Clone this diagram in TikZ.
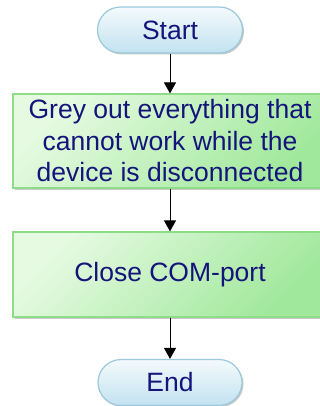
\documentclass[tikz,border=0pt]{standalone}
\usepackage{fontspec}
\setmainfont{Liberation Sans}
\usetikzlibrary{shadows,arrows.meta}
\definecolor{txtblue}{HTML}{14147A}
\definecolor{termfillA}{HTML}{F4FAFC}
\definecolor{termfillB}{HTML}{C2E2F0}
\definecolor{termline}{HTML}{9CC8DC}
\definecolor{stepfillA}{HTML}{E6FAE2}
\definecolor{stepfillB}{HTML}{A0E89B}
\definecolor{stepline}{HTML}{8EDC88}
\tikzset{
  terminal/.style={draw=termline, line width=1.2pt, rounded corners=23pt,
    minimum width=145pt, minimum height=46pt, inner sep=0pt,
    top color=termfillA, bottom color=termfillB,
    drop shadow={shadow xshift=1.5pt, shadow yshift=-1.5pt, fill=black!35, opacity=0.6},
    text=txtblue, font=\fontsize{26.5}{31}\selectfont},
  process/.style={draw=stepline, line width=1.2pt,
    minimum width=314pt, inner sep=0pt, align=center,
    left color=stepfillA, right color=stepfillB, shading angle=45,
    drop shadow={shadow xshift=1.5pt, shadow yshift=-2pt, fill=black!35, opacity=0.6},
    text=txtblue, font=\fontsize{26.5}{31.5}\selectfont},
  flow/.style={draw=black, line width=1pt, -{Triangle[length=11pt,width=12pt]}}
}
\begin{document}
\begin{tikzpicture}[x=1pt,y=1pt]
  \useasboundingbox (0,0) rectangle (320,-406);
  \node[terminal] (start) at (170,-30) {Start};
  \node[process, minimum height=94pt] (grey) at (170,-141)
    {Grey out everything that\\cannot work while the\\device is disconnected};
  \node[process, minimum height=85pt] (close) at (170,-274.5) {Close COM-port};
  \node[terminal, minimum width=144pt] (end) at (170,-382.5) {End};
  \draw[flow] (start) -- (grey);
  \draw[flow] (grey) -- (close);
  \draw[flow] (close) -- (end);
\end{tikzpicture}
\end{document}
